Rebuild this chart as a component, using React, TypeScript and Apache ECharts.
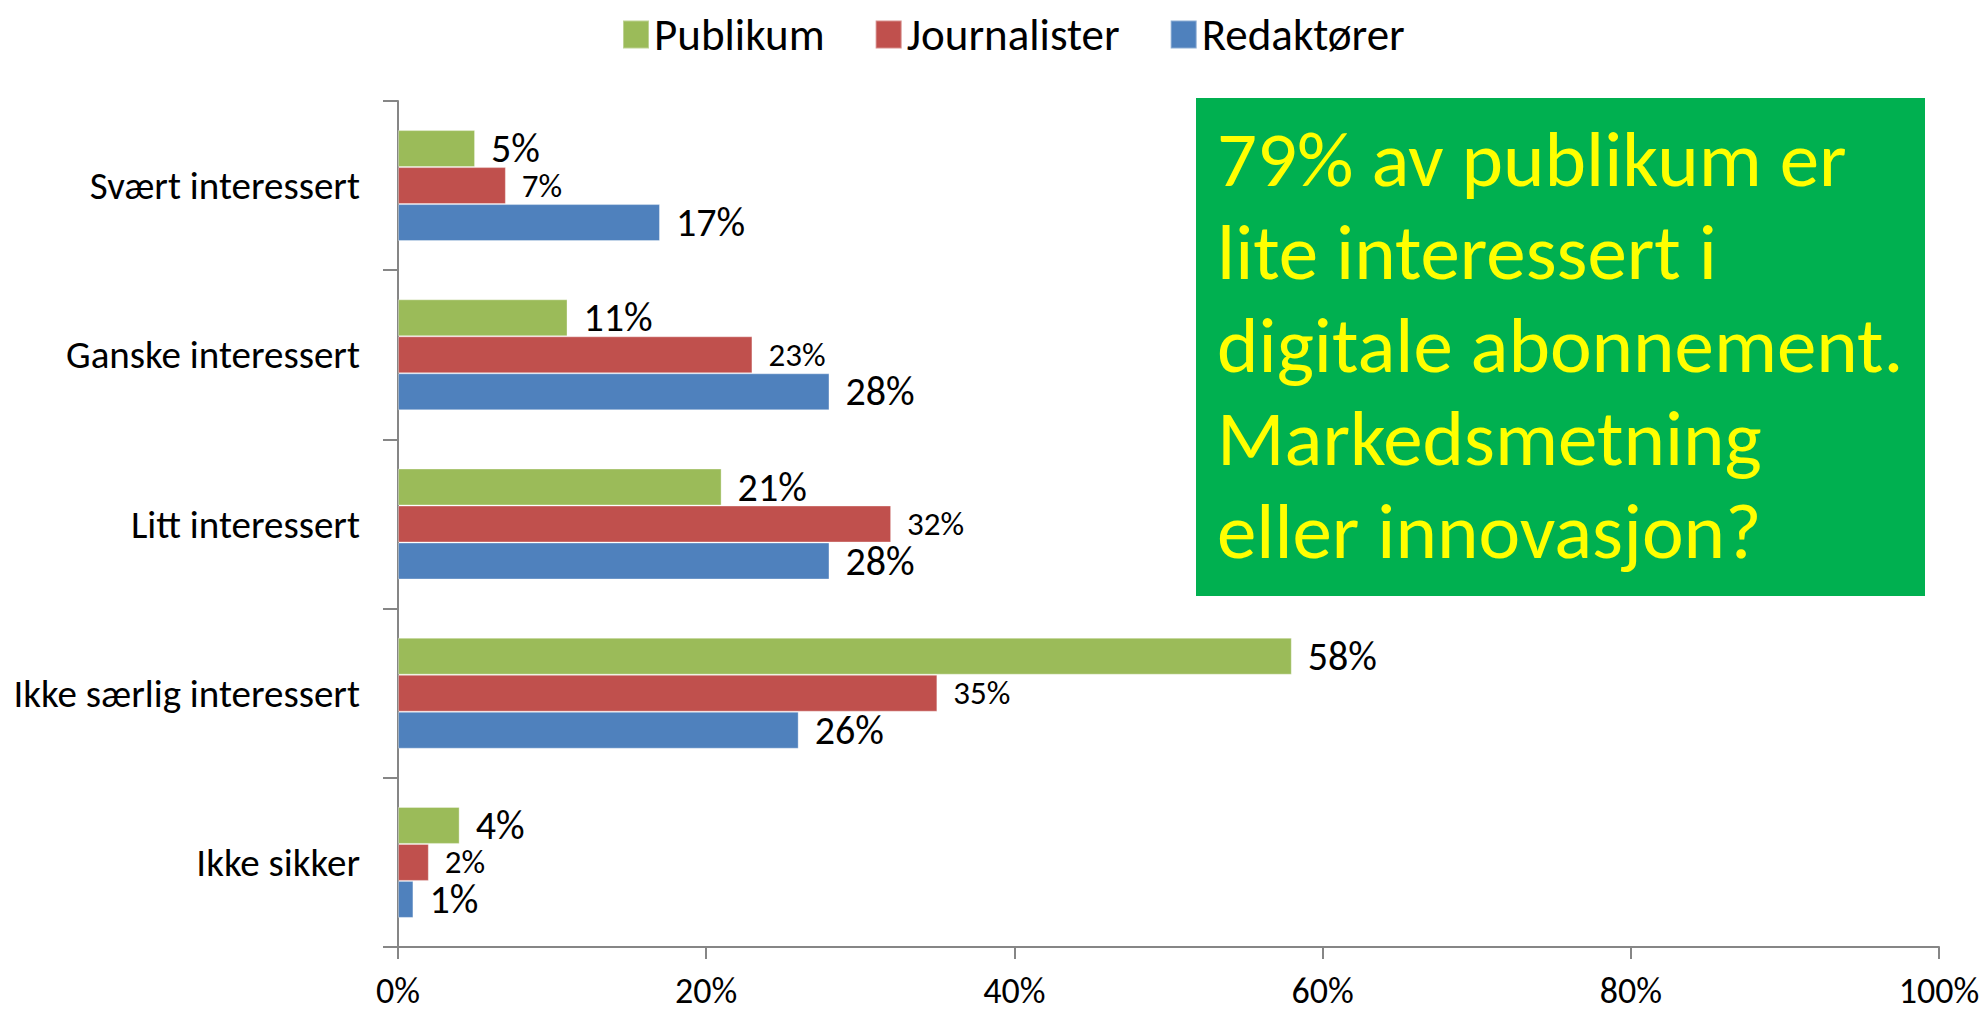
import React, { useEffect, useRef } from "react";
import * as echarts from "echarts";

const categories = [
  "Svært interessert",
  "Ganske interessert",
  "Litt interessert",
  "Ikke særlig interessert",
  "Ikke sikker",
];
const seriesNames = ["Publikum", "Journalister", "Redaktører"];
const publikum = [5, 11, 21, 58, 4];
const journalister = [7, 23, 32, 35, 2];
const redaktorer = [17, 28, 28, 26, 1];
const colors = ["#9BBB59", "#C0504D", "#4F81BD"];
const labelSizes = [40, 33, 40];
const labelLineHeights = [36, 30, 36];
const calloutLines = [
  "79% av publikum er",
  "lite interessert i",
  "digitale abonnement.",
  "Markedsmetning",
  "eller innovasjon?",
];

const FONT = "Carlito, Lato, 'Open Sans', sans-serif";

export default function App() {
  const ref = useRef<HTMLDivElement>(null);
  useEffect(() => {
    if (!ref.current) return;
    const chart = echarts.init(ref.current, null, { renderer: "svg" });
    const data = [publikum, journalister, redaktorer];
    chart.setOption({
      animation: false,
      backgroundColor: "#ffffff",
      textStyle: { fontFamily: FONT },
      legend: {
        left: 617,
        top: 7,
        itemWidth: 26,
        itemHeight: 28,
        itemGap: 50,
        icon: "rect",
        textStyle: { fontSize: 45, color: "#000", fontFamily: FONT },
        data: seriesNames,
      },
      grid: { left: 398, right: 49, top: 101, bottom: 67, containLabel: false },
      xAxis: {
        type: "value",
        min: 0,
        max: 100,
        interval: 20,
        axisLine: { show: true, lineStyle: { color: "#868686", width: 2 } },
        axisTick: { show: true, length: 12, lineStyle: { color: "#868686", width: 2 } },
        splitLine: { show: false },
        axisLabel: {
          formatter: "{value}%",
          fontSize: 36,
          color: "#000",
          margin: 26,
          fontFamily: FONT,
        },
      },
      yAxis: {
        type: "category",
        inverse: true,
        data: categories,
        axisLine: { show: true, lineStyle: { color: "#868686", width: 2 } },
        axisTick: { show: true, length: 15, alignWithLabel: false, lineStyle: { color: "#868686", width: 2 } },
        axisLabel: { fontSize: 39, color: "#000", margin: 38, fontFamily: FONT },
      },
      series: seriesNames.map((name, i) => ({
        name,
        type: "bar",
        data: data[i],
        barWidth: 37,
        barGap: "0%",
        itemStyle: { color: colors[i], borderColor: "rgba(255,255,255,0.35)", borderWidth: 1 },
        label: {
          show: true,
          position: "right",
          distance: 16,
          formatter: "{c}%",
          fontSize: labelSizes[i],
          lineHeight: labelLineHeights[i],
          color: "#000",
          fontFamily: FONT,
        },
      })),
      graphic: [
        {
          type: "rect",
          shape: { x: 1196, y: 98, width: 729, height: 498 },
          style: { fill: "#00B050" },
          z: 10,
        },
        {
          type: "text",
          x: 1217,
          y: 112,
          z: 11,
          style: {
            text: calloutLines.join("\n"),
            fill: "#FFFF00",
            fontSize: 79,
            lineHeight: 93,
            fontFamily: FONT,
            textVerticalAlign: "top",
            textAlign: "left",
          },
        },
      ],
    });
    return () => chart.dispose();
  }, []);
  return (
    <div
      ref={ref}
      style={{ position: "fixed", left: 0, top: 0, width: 1988, height: 1014 }}
    />
  );
}
